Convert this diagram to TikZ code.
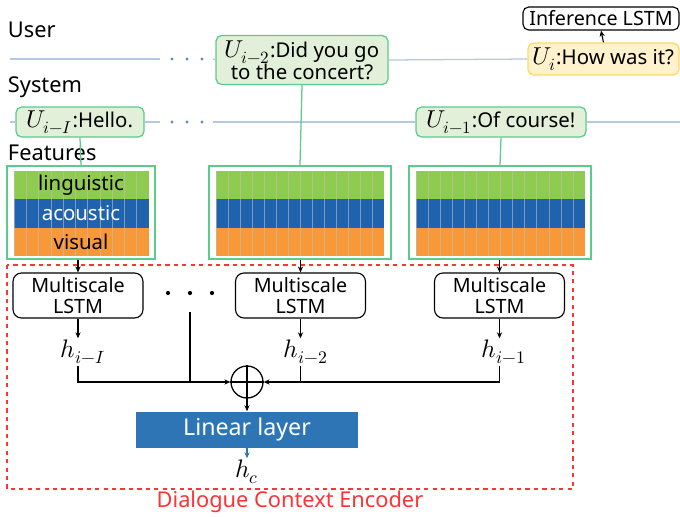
\documentclass[tikz,border=0pt]{standalone}
\usepackage{fontspec}
\setmainfont{Noto Sans}
\usepackage{unicode-math}
\setmathfont{Latin Modern Math}[Scale=1.2]
\usepackage{tikz}
\usetikzlibrary{arrows.meta, calc}

\definecolor{uttfill}{HTML}{E2F0D9}
\definecolor{uttedge}{HTML}{5CCB8C}
\definecolor{curfill}{HTML}{FFF2CC}
\definecolor{curedge}{HTML}{FFD966}
\definecolor{featgreen}{HTML}{8FCB4E}
\definecolor{featblue}{HTML}{1F63AE}
\definecolor{featorange}{HTML}{F79839}
\definecolor{linblue}{HTML}{2E75B6}
\definecolor{timeline}{HTML}{B4C7E7}
\definecolor{encred}{HTML}{FF3333}

\begin{document}
\begin{tikzpicture}[
  x=0.025cm, y=-0.025cm,
  >={Stealth[length=1.5mm, width=1.3mm]},
  font=\fontsize{14.5}{16.5}\selectfont,
  utt/.style={draw=uttedge, fill=uttfill, line width=0.9pt, rounded corners=4pt,
    inner sep=0pt, align=center},
  cur/.style={utt, draw=curedge, fill=curfill},
  lstm/.style={draw, line width=0.8pt, rounded corners=6pt, inner sep=0pt, align=center,
    minimum width=130*0.025cm, minimum height=45*0.025cm,
    font=\fontsize{14}{15}\selectfont},
  featbox/.style={draw=uttedge, line width=0.8pt, inner sep=0pt,
    minimum height=93*0.025cm},
  hid/.style={inner sep=1pt, font=\fontsize{15}{18}\selectfont},
  tline/.style={timeline, line width=0.9pt},
  rowlbl/.style={anchor=west, font=\fontsize{15.5}{18}\selectfont},
  ]

  % Background / bounding box
  \useasboundingbox (0,0) rectangle (680,516);

  % Row labels
  \node[rowlbl] (lbluser) at (3,30) {User};
  \node[rowlbl] (lblsys) at (3,87) {System};
  \node[rowlbl] (lblfeat) at (3,153) {Features};

  % Utterances
  \node[utt, minimum width=172*0.025cm, minimum height=49*0.025cm] (u2) at (302,60)
    {$U_{i-2}$:Did you go\\[-1pt]to the concert?};
  \node[cur, minimum width=151*0.025cm, minimum height=32*0.025cm] (ui) at (603.5,59)
    {$U_i$:How was it?};
  \node[draw, line width=0.8pt, rounded corners=4pt, inner sep=0pt,
    minimum width=156*0.025cm, minimum height=23*0.025cm,
    font=\fontsize{14}{16}\selectfont] (inf) at (601,18.5)
    {Inference LSTM};
  \node[utt, minimum width=128*0.025cm, minimum height=30*0.025cm] (uI) at (80,122)
    {$U_{i-I}$:Hello.};
  \node[utt, minimum width=170*0.025cm, minimum height=30*0.025cm] (u1) at (501,122)
    {$U_{i-1}$:Of course!};
  \draw[->, line width=0.8pt] (ui.north) -- (inf.south);

  % Time lines
  \draw[tline] (10,59) -- (160,59);
  \draw[tline] (213,59) -- (u2.west);
  \draw[tline] (u2.east) -- (ui.west);
  \draw[tline] (10,122) -- (uI.west);
  \draw[tline] (uI.east) -- (160,122);
  \draw[tline] (213,122) -- (u1.west);
  \draw[tline] (u1.east) -- (680,122);
  \foreach \dx in {172, 187, 202} {
    \fill[linblue!80] (\dx,59) circle (1.2pt);
    \fill[linblue!80] (\dx,122) circle (1.2pt);
  }

  % Feature blocks
  \node[featbox, minimum width=148*0.025cm] (fa) at (81,212.5) {};
  \node[featbox, minimum width=182*0.025cm] (fb) at (300,212.5) {};
  \node[featbox, minimum width=182*0.025cm] (fc) at (500,212.5) {};
  \foreach \fx/\fw/\fn in {14/135/11, 216/168/14, 416/169/14} {
    \fill[featgreen] (\fx,171) rectangle (\fx+\fw,199);
    \fill[featblue] (\fx,199) rectangle (\fx+\fw,228);
    \fill[featorange] (\fx,228) rectangle (\fx+\fw,256);
    \foreach \k in {1,...,\fn} {
      \draw[black!25, opacity=0.6, line width=0.4pt]
        (\fx+\k*\fw/\fn-\fw/\fn,171) -- ++(0,85);
    }
  }
  \node (ling) at (81,185) {linguistic};
  \node[white] (acou) at (81,213.5) {acoustic};
  \node (vis) at (81,242) {visual};

  \draw[uttedge, line width=0.9pt] (uI.south) -- (fa.north);
  \draw[uttedge, line width=0.9pt] (u2.south) -- (fb.north);
  \draw[uttedge, line width=0.9pt] (u1.south) -- (fc.north);

  % Dialogue context encoder
  \draw[encred, dashed, line width=0.9pt] (7,265) rectangle (573,489);
  \node[encred, font=\fontsize{15.5}{18}\selectfont] (enclbl) at (290,502)
    {Dialogue Context Encoder};

  \node[lstm] (la) at (78,295.5) {Multiscale\\LSTM};
  \node[lstm] (lb) at (300.5,295.5) {Multiscale\\LSTM};
  \node[lstm] (lc) at (499.5,295.5) {Multiscale\\LSTM};
  \foreach \dx in {168, 190, 212} {
    \fill (\dx,293) circle (1.5pt);
  }
  \coordinate (dotsbot) at (190,312);

  \draw[->, line width=0.8pt] (fa.south -| la) -- (la.north);
  \draw[->, line width=0.8pt] (fb.south -| lb) -- (lb.north);
  \draw[->, line width=0.8pt] (fc.south -| lc) -- (lc.north);

  \node[hid] (ha) at (83,352) {$h_{i-I}$};
  \node[hid] (hb) at (306,352) {$h_{i-2}$};
  \node[hid] (hc1) at (504,352) {$h_{i-1}$};
  \draw[->, line width=0.8pt] (la.south) -- (la |- ha.north);
  \draw[->, line width=0.8pt] (lb.south) -- (lb |- hb.north);
  \draw[->, line width=0.8pt] (lc.south) -- (lc |- hc1.north);

  % Summation
  \node[draw, circle, line width=0.9pt, minimum size=32*0.025cm, inner sep=0pt] (sum)
    at (247,382) {};
  \draw[line width=0.9pt] (sum.north) -- (sum.south) (sum.west) -- (sum.east);
  \draw[->, line width=0.8pt] (la |- ha.south) |- (sum.west);
  \draw[->, line width=0.8pt] (lc |- hc1.south) |- (sum.east);
  \draw[line width=0.8pt] (lb |- hb.south) -- (lb |- sum);
  \draw[line width=0.8pt] (dotsbot) -- (dotsbot |- sum);

  % Linear layer
  \node[fill=linblue, text=white, minimum width=222*0.025cm, minimum height=36*0.025cm,
    inner sep=0pt, font=\fontsize{16.5}{18}\selectfont] (lin) at (247,429.5) {Linear layer};
  \draw[->, line width=0.8pt] (sum.south) -- (lin.north);
  \node[hid] (hctx) at (247,472) {$h_c$};
  \draw[->, linblue, line width=0.8pt] (lin.south) -- (hctx.north);

\end{tikzpicture}
\end{document}
